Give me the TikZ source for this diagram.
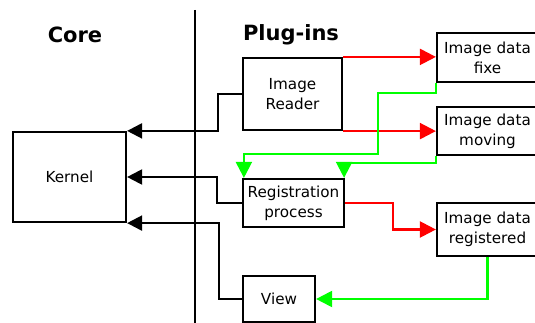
\documentclass[tikz,border=0pt]{standalone}
\usepackage{fontspec}
\setmainfont{DejaVu Sans}
\usetikzlibrary{arrows.meta}
\definecolor{myred}{RGB}{255,0,0}
\definecolor{mygreen}{RGB}{0,255,0}
\tikzset{
  box/.style={draw=black, line width=2.2pt, inner sep=0pt, align=center,
    font=\fontsize{15.2}{20}\selectfont},
  head/.style={font=\fontsize{21}{24}\selectfont\bfseries},
  blk/.style={draw=black, line width=2.2pt, -{Triangle[length=15pt,width=15pt]}},
  redc/.style={draw=myred, line width=2.2pt, -{Triangle[length=16pt,width=16pt]}},
  grnc/.style={draw=mygreen, line width=2.2pt, -{Triangle[length=16pt,width=16pt]}},
}
\begin{document}
\begin{tikzpicture}[x=1pt,y=-1pt]
\useasboundingbox (0,0) rectangle (535,323);
\node[head] (core) at (75,35) {Core};
\node[head] (plug) at (291,35) {Plug-ins};
\coordinate (divtop) at (195,10);
\coordinate (divbot) at (195,326);
\draw[line width=2.2pt] (divtop) -- (divbot);

\node[box, minimum width=113pt, minimum height=90pt] (kernel) at (69.5,177) {Kernel};
\node[box, minimum width=99pt, minimum height=72pt] (reader) at (292.5,94) {Image\\Reader};
\node[box, minimum width=101pt, minimum height=49pt] (fixe) at (487.5,57.5) {Image data\\fixe};
\node[box, minimum width=101pt, minimum height=48pt] (moving) at (487.5,131) {Image data\\moving};
\node[box, minimum width=101pt, minimum height=48pt] (reg) at (293.5,203) {Registration\\process};
\node[box, minimum width=101pt, minimum height=53pt] (regd) at (487.5,229.5) {Image data\\registered};
\node[box, minimum width=72pt, minimum height=46pt] (view) at (279,299) {View};

\draw[blk] (reader.west) -- ++(-24,0) |- (kernel.north east);
\draw[blk] (reg.west) -- ++(-25,0) |- (kernel.east);
\draw[blk] (view.west) -- ++(-23,0) |- (kernel.south east);

\draw[redc] (reader.north east) -- (reader.north east -| fixe.west);
\draw[redc] (reader.south east) -- (reader.south east -| moving.west);
\draw[redc] (reg.east) -- ++(48,0) |- (regd.west);

\draw[grnc] (fixe.south west) -- ++(0,10) -- ++(-58,0) -- ++(0,61) -| ([xshift=2pt]reg.north west);
\draw[grnc] (moving.south west) -- ++(0,7) -| ([xshift=-1pt]reg.north east);
\draw[grnc] (regd.south) |- (view.east);
\end{tikzpicture}
\end{document}
